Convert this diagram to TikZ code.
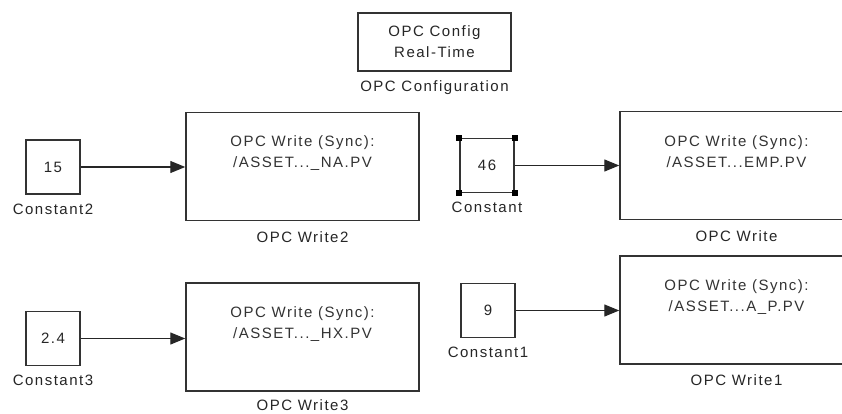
\documentclass[tikz,border=0pt]{standalone}
\usepackage{fontspec}
\setmainfont{Liberation Sans}
\newfontfamily\lblfont[LetterSpace=10]{Liberation Sans}
\usetikzlibrary{arrows.meta}

\tikzset{
  blockbox/.style={draw=black!80, line width=1.5pt, fill=white, inner sep=0pt},
  constbox/.style={blockbox, minimum width=54pt, minimum height=54pt,
    font=\lblfont\fontsize{15}{18}\selectfont, text=black!85},
  cfgbox/.style={blockbox, minimum width=153pt, minimum height=58pt, align=center,
    font=\lblfont\fontsize{15}{21}\selectfont, text=black!85},
  writebox/.style={blockbox, minimum width=233pt, minimum height=108pt},
  wtext/.style={align=center, inner sep=0pt, text=black!80,
    font=\lblfont\fontsize{15}{21}\selectfont},
  lbl/.style={anchor=base, inner sep=0pt, text=black!85,
    font=\lblfont\fontsize{15}{18}\selectfont},
  conn/.style={draw=black!85, line width=1.3pt, -{Triangle[length=15pt,width=12pt]}},
  handle/.style={fill=black}
}

\begin{document}
\begin{tikzpicture}[x=1pt, y=-1pt]
\clip (0,0) rectangle (842,414);
\fill[white] (0,0) rectangle (842,414);

% configuration block
\node[cfgbox] (cfg) at (434.5,42) {OPC Config\\Real-Time};
\node[lbl] (cfgl) at ([yshift=-20pt]cfg.south) {OPC Configuration};

% source constants
\node[constbox] (c2) at (53,167) {15};
\node[lbl] (c2l) at ([yshift=-19.5pt]c2.south) {Constant2};
\node[constbox] (c0) at (487,165.5) {46};
\node[lbl] (c0l) at ([yshift=-19.5pt]c0.south) {Constant};
\node[constbox] (c3) at (53,338.5) {2.4};
\node[lbl] (c3l) at ([yshift=-19.5pt]c3.south) {Constant3};
\node[constbox] (c1) at (488,310.5) {9};
\node[lbl] (c1l) at ([yshift=-19.5pt]c1.south) {Constant1};

% selection handles on the chosen constant
\foreach \corner in {north west, north east, south west, south east}{
  \fill[handle] ([shift={(-3pt,-3pt)}]c0.\corner) rectangle ([shift={(3pt,3pt)}]c0.\corner);
}

% OPC write blocks
\node[writebox] (w2) at (302.5,166.5) {};
\node[wtext] (w2t) at ([yshift=-41pt]w2.north) {OPC Write (Sync):\\/ASSET...\_NA.PV};
\node[lbl] (w2l) at ([yshift=-21pt]w2.south) {OPC Write2};

\node[writebox] (w0) at (736.5,165.5) {};
\node[wtext] (w0t) at ([yshift=-41pt]w0.north) {OPC Write (Sync):\\/ASSET...EMP.PV};
\node[lbl] (w0l) at ([yshift=-21pt]w0.south) {OPC Write};

\node[writebox] (w3) at (302.5,337) {};
\node[wtext] (w3t) at ([yshift=-42pt]w3.north) {OPC Write (Sync):\\/ASSET...\_HX.PV};
\node[lbl] (w3l) at ([yshift=-19pt]w3.south) {OPC Write3};

\node[writebox] (w1) at (736.5,310) {};
\node[wtext] (w1t) at ([yshift=-42pt]w1.north) {OPC Write (Sync):\\/ASSET...A\_P.PV};
\node[lbl] (w1l) at ([yshift=-21pt]w1.south) {OPC Write1};

% signal lines
\draw[conn] (c2.east) -- (c2.east -| w2.west);
\draw[conn] (c0.east) -- (c0.east -| w0.west);
\draw[conn] (c3.east) -- (c3.east -| w3.west);
\draw[conn] (c1.east) -- (c1.east -| w1.west);
\end{tikzpicture}
\end{document}
